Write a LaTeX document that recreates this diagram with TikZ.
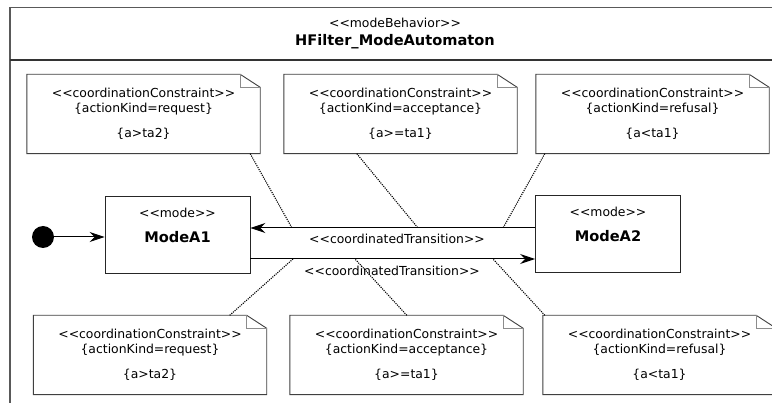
\documentclass[tikz,border=0pt]{standalone}
\usepackage{fontspec}
\setmainfont{DejaVu Sans}
\usetikzlibrary{arrows.meta,calc}
\newcommand\stl{<{}<}
\newcommand\str{>{}>}
\tikzset{
  notebox/.style={minimum width=233pt,minimum height=79pt,inner sep=0pt,align=center,
    font=\fontsize{12.4}{15}\selectfont},
  modebox/.style={draw=black!85,line width=0.9pt,minimum width=145pt,minimum height=77pt,inner sep=0pt,align=center,
    font=\fontsize{12.4}{15}\selectfont},
  noteline/.style={draw=black!75,line width=0.9pt},
  foldline/.style={draw=black!45,line width=0.6pt},
  trans/.style={line width=1pt,-{Stealth[length=15pt,width=10pt,inset=5pt]}},
  anchorline/.style={line width=1.1pt,dash pattern=on 1.1pt off 1.1pt},
  lbl/.style={font=\fontsize{12.4}{15}\selectfont,inner sep=0pt},
  frameline/.style={draw=black!65,line width=1.2pt},
}
\newcommand\notefold[1]{%
  \draw[noteline] (#1.north west) -- ($(#1.north east)+(-20,0)$) -- ($(#1.north east)+(0,13)$) -- (#1.south east) -- (#1.south west) -- cycle;
  \draw[foldline] ($(#1.north east)+(-20,0)$) -- ($(#1.north east)+(-20,13)$) -- ($(#1.north east)+(0,13)$);}
\begin{document}
\begin{tikzpicture}[x=1pt,y=-1pt]
\useasboundingbox (0,0) rectangle (772,403);
\fill[white] (0,0) rectangle (772,403);
% frame
\draw[frameline] (785,7.5) -- (10,7.5) -- (10,415);
\draw[black!80,line width=1.2pt] (10,60) -- (785,60);
\node[lbl] (stereo) at (395,23) {\stl modeBehavior\str};
\node[lbl,font=\fontsize{14.6}{17}\selectfont\bfseries] (title) at (395,42) {HFilter\_ModeAutomaton};
% notes top
\node[notebox] (n1) at (143.5,114) {\stl coordinationConstraint\str\\{\{}actionKind=request\}\\[10pt]\{a>ta2\}};
\node[notebox] (n2) at (400.5,114) {\stl coordinationConstraint\str\\{\{}actionKind=acceptance\}\\[10pt]\{a>=ta1\}};
\node[notebox] (n3) at (652.5,114) {\stl coordinationConstraint\str\\{\{}actionKind=refusal\}\\[10pt]\{a<ta1\}};
% notes bottom
\node[notebox] (n4) at (150,355) {\stl coordinationConstraint\str\\{\{}actionKind=request\}\\[10pt]\{a>ta2\}};
\node[notebox] (n5) at (406.5,355) {\stl coordinationConstraint\str\\{\{}actionKind=acceptance\}\\[10pt]\{a>=ta1\}};
\node[notebox] (n6) at (659.5,355) {\stl coordinationConstraint\str\\{\{}actionKind=refusal\}\\[10pt]\{a<ta1\}};
\notefold{n1}\notefold{n2}\notefold{n3}\notefold{n4}\notefold{n5}\notefold{n6}
% modes
\node[modebox] (m1) at (177.5,234.5) {\stl mode\str\\[10pt]{\fontsize{14.6}{17}\selectfont\bfseries ModeA1}\\[3pt]\mbox{}};
\node[modebox] (m2) at (608,233.5) {\stl mode\str\\[10pt]{\fontsize{14.6}{17}\selectfont\bfseries ModeA2}\\[3pt]\mbox{}};
\node[circle,fill=black,minimum size=22pt,inner sep=0pt] (init) at (43,237) {};
\draw[trans] (init) -- (m1.west |- init);
% transitions
\coordinate (yu) at (0,228);
\coordinate (yl) at (0,259);
\draw[trans] (m2.west |- yu) -- (m1.east |- yu);
\draw[trans] (m1.east |- yl) -- (m2.west |- yl);
\node[lbl] (t1) at (397,238.5) {\stl coordinatedTransition\str};
\node[lbl] (t2) at (392,271) {\stl coordinatedTransition\str};
% anchor points on transitions
\coordinate (a1) at (292,228);
\coordinate (a2) at (418,228);
\coordinate (a3) at (503,228);
\coordinate (a4) at (293,259);
\coordinate (a5) at (355,259);
\coordinate (a6) at (493,259);
\draw[anchorline] ($(n1.south east)+(-10,0)$) -- (a1);
\draw[anchorline] ($(n2.south west)+(73,0)$) -- (a2);
\draw[anchorline] ($(n3.south west)+(9,0)$) -- (a3);
\draw[anchorline] ($(n4.north east)+(-37,0)$) -- (a4);
\draw[anchorline] ($(n5.north west)+(117,0)$) -- (a5);
\draw[anchorline] ($(n6.north west)+(2,0)$) -- (a6);
\end{tikzpicture}
\end{document}
